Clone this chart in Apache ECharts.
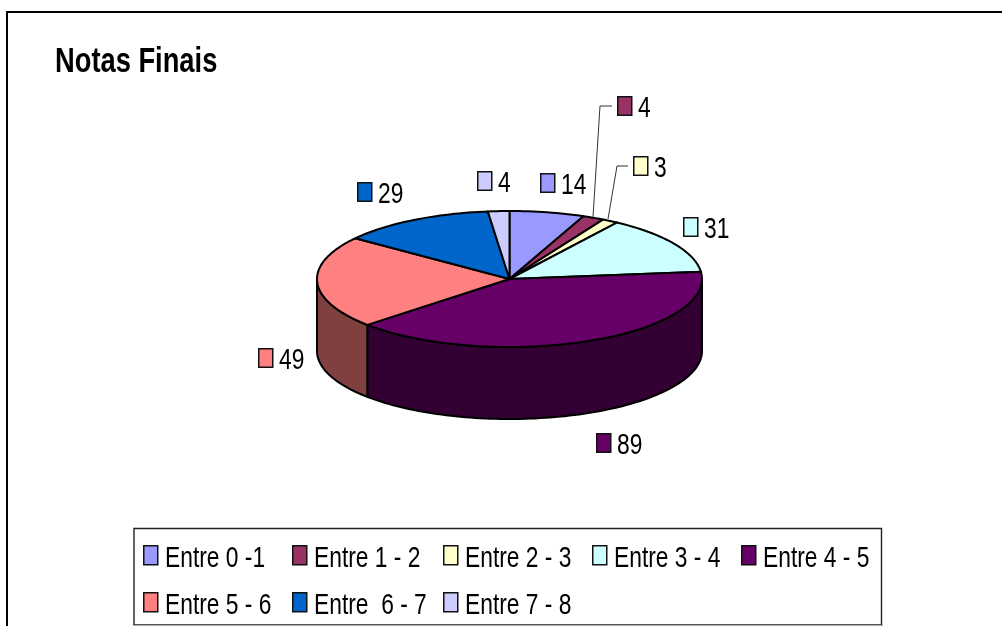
<!DOCTYPE html>
<html><head><meta charset="utf-8">
<style>html,body{margin:0;padding:0;background:#fff}#c{width:1002px;height:626px}</style>
<script src="https://cdn.jsdelivr.net/npm/echarts@6/dist/echarts.min.js"></script>
</head><body><div id="c"></div>
<script>
const title = 'Notas Finais';
const categories = ['Entre 0 -1','Entre 1 - 2','Entre 2 - 3','Entre 3 - 4','Entre 4 - 5','Entre 5 - 6','Entre  6 - 7','Entre 7 - 8'];
const values = [14,4,3,31,89,49,29,4];
const colors = ['#9999FF','#993366','#FFFFCC','#CCFFFF','#660066','#FF8080','#0066CC','#CCCCFF'];
const sideColors = ['#4C4C80','#4C1933','#808066','#668080','#330033','#804040','#003366','#666680'];

// layout only
const CX=509.5, CY=279, RX=192.5, RY=68, DEPTH=72;
const FONT='"Liberation Sans",Arial,sans-serif';
const NARROW=0.76, TITLE_NARROW=0.78;
const labelBoxes=[[540,173],[617,96],[633,156],[683,217],[596,433],[258,348],[357,182],[477,171]];
const leaders={1:[[593,217],[600,106],[612,106]],2:[[608,219],[617,166],[628,166]]};
const legendPos=[[143,545],[292,545],[443,545],[592,545],[741,545],[143,592],[292,592],[443,592]];

const total=values.reduce((a,b)=>a+b,0);
const pt=(deg,dy)=>{const t=deg*Math.PI/180;return [CX+RX*Math.sin(t),CY-RY*Math.cos(t)+(dy||0)];};
function arc(a,b,dy){const n=Math.max(2,Math.ceil((b-a)/1.5));const r=[];for(let i=0;i<=n;i++)r.push(pt(a+(b-a)*i/n,dy));return r;}
const strokeStyle=(fill)=>({fill,stroke:'#000',lineWidth:2,lineJoin:'round'});
const swatchStyle=(fill)=>({fill,stroke:'#111',lineWidth:1.5});

function renderSlice(idx){
  return function(params,api){
    const before=values.slice(0,idx).reduce((a,b)=>a+b,0);
    const a=before/total*360, b=(before+api.value(0))/total*360;
    const children=[];
    const sa=Math.max(a,90), sb=Math.min(b,270);
    if(sb>sa){
      children.push({type:'polygon',z2:1,shape:{points:arc(sa,sb,0).concat(arc(sa,sb,DEPTH).reverse())},style:strokeStyle(sideColors[idx])});
    }
    children.push({type:'polygon',z2:2,shape:{points:[[CX,CY]].concat(arc(a,b,0))},style:strokeStyle(colors[idx])});
    const [bx,by]=labelBoxes[idx];
    if(leaders[idx]) children.push({type:'polyline',z2:3,shape:{points:leaders[idx]},style:{fill:null,stroke:'#333',lineWidth:1}});
    children.push({type:'rect',z2:3,shape:{x:bx+.75,y:by+.75,width:14,height:18.5},style:swatchStyle(colors[idx])});
    children.push({type:'text',z2:3,x:bx+21,y:by+13,scaleX:NARROW,style:{x:0,y:0,text:String(api.value(0)),fill:'#000',font:'30px '+FONT,textAlign:'left',textVerticalAlign:'middle'}});
    return {type:'group',children};
  };
}

const legendItems=[];
categories.forEach((name,i)=>{
  const [x,y]=legendPos[i];
  legendItems.push({type:'rect',z:3,shape:{x:x+.75,y:y+.75,width:14,height:19},style:swatchStyle(colors[i])});
  legendItems.push({type:'text',z:3,x:x+22,y:y+14,scaleX:NARROW,style:{x:0,y:0,text:name,fill:'#000',font:'30px '+FONT,textAlign:'left',textVerticalAlign:'middle'}});
});

const chart=echarts.init(document.getElementById('c'),null,{renderer:'canvas'});
chart.setOption({
  animation:false,
  backgroundColor:'#fff',
  graphic:[
    {type:'polyline',z:-1,shape:{points:[[7,626],[7,12],[1002,12]]},style:{fill:null,stroke:'#000',lineWidth:2}},
    {type:'rect',z:1,shape:{x:134,y:528.5,width:747.5,height:96.5},style:{fill:'#fff',stroke:'#222',lineWidth:1.4}},
    {type:'line',z:2,shape:{x1:133,y1:625.5,x2:883,y2:625.5},style:{stroke:'#aaa',lineWidth:1}},
    {type:'text',z:3,x:55,y:62.5,scaleX:TITLE_NARROW,style:{x:0,y:0,text:title,fill:'#000',font:'bold 35px '+FONT,textAlign:'left',textVerticalAlign:'middle'}}
  ].concat(legendItems),
  series:categories.map((name,i)=>({
    type:'custom',name,coordinateSystem:'none',silent:true,
    itemStyle:{color:colors[i]},
    data:[[values[i]]],
    renderItem:renderSlice(i)
  }))
});
</script></body></html>
